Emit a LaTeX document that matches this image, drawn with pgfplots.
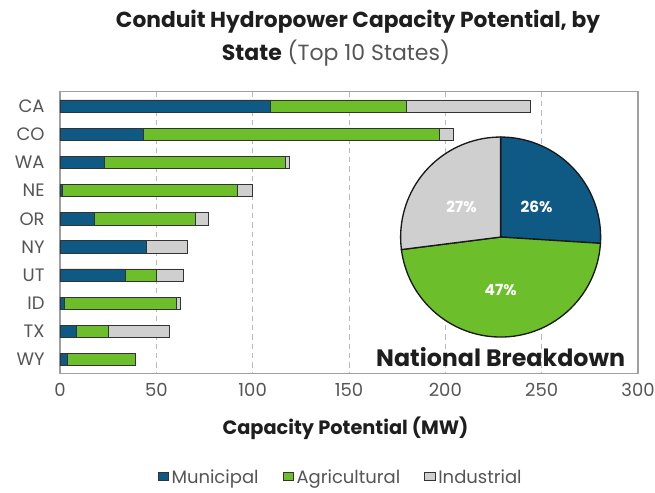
\documentclass[border=0pt]{standalone}
\usepackage{pgfplots}
\pgfplotsset{compat=1.18}
\usepackage{pgfplotstable}
\usepackage{fontspec}
\setmainfont{Poppins}
\definecolor{muni}{HTML}{0F5A85}
\definecolor{agri}{HTML}{6CBF2B}
\definecolor{ind}{HTML}{CFCFCF}
\definecolor{tickc}{HTML}{555555}
\definecolor{titlec}{HTML}{1E1E1E}
\pgfplotstableread{
idx muni agri ind
0 109 71 64
1 43 154 7
2 23 94 2
3 1 91 8
4 18 52 7
5 45 0 21
6 34 16 14
7 2 58.5 2
8 8.5 16.5 32
9 4 35 0
}\data
\tikzset{sqleg/.style={legend image code/.code={\draw[##1, line width=0.6pt] (0pt,-4pt) rectangle (8pt,4pt);}}}
\begin{document}
\begin{tikzpicture}
\useasboundingbox (-45pt,-89pt) rectangle (446.25pt,280pt);
\begin{axis}[
  at={(0,0)}, anchor=south west,
  scale only axis, width=433.5pt, height=211.2pt,
  xbar stacked, bar width=9.2pt,
  xmin=0, xmax=300, ymin=-0.51, ymax=9.49, y dir=reverse,
  xtick={0,50,...,300}, ytick={0,...,9},
  yticklabels={CA,CO,WA,NE,OR,NY,UT,ID,TX,WY},
  major tick length=0pt,
  xmajorgrids, grid style={dash pattern=on 4pt off 3pt, gray!55, line width=0.6pt},
  axis line style={draw=gray!75, line width=0.9pt},
  ticklabel style={font=\fontsize{13.5}{15}\selectfont, text=tickc},
  yticklabel style={xshift=-8pt}, xticklabel style={yshift=-4pt},
  /pgf/number format/assume math mode=true,
  xlabel={\textbf{Capacity Potential (MW)}},
  xlabel style={at={(axis description cs:0.494,-0.194)}, anchor=center, font=\fontsize{14.5}{16}\selectfont, text=titlec},
  legend style={at={(axis description cs:0.486,-0.372)}, anchor=center, draw=none, legend columns=3,
    font=\fontsize{13.5}{15}\selectfont, text=tickc,
    /tikz/every even column/.append style={column sep=16pt}},
  clip=false,
]
\addplot[fill=muni, draw=black!80, line width=0.5pt, sqleg] table[x=muni,y=idx]{\data};
\addlegendentry{Municipal}
\addplot[fill=agri, draw=black!80, line width=0.5pt, sqleg] table[x=agri,y=idx]{\data};
\addlegendentry{Agricultural}
\addplot[fill=ind, draw=black!80, line width=0.5pt, sqleg] table[x=ind,y=idx]{\data};
\addlegendentry{Industrial}
\coordinate (pc) at (axis cs:228.7,4.65);
\end{axis}
% pie: 26% municipal, 47% agricultural, 27% industrial
\filldraw[fill=muni, draw=black!90, line width=1pt] (pc) -- ++(90:75pt) arc[start angle=90, end angle=-3.6, radius=75pt] -- cycle;
\filldraw[fill=agri, draw=black!90, line width=1pt] (pc) -- ++(-3.6:75pt) arc[start angle=-3.6, end angle=-172.8, radius=75pt] -- cycle;
\filldraw[fill=ind, draw=black!90, line width=1pt] (pc) -- ++(-172.8:75pt) arc[start angle=-172.8, end angle=-270, radius=75pt] -- cycle;
\node[text=white, font=\fontsize{11.5}{13}\selectfont\bfseries] at ([shift={(27pt,22.7pt)}]pc) {26\%};
\node[text=white, font=\fontsize{11.5}{13}\selectfont\bfseries] at ([shift={(-29.3pt,22.7pt)}]pc) {27\%};
\node[text=white, font=\fontsize{11.5}{13}\selectfont\bfseries] at ([shift={(0pt,-39.8pt)}]pc) {47\%};
\node[text=titlec, font=\fontsize{17.8}{19}\selectfont\bfseries] at ([shift={(0pt,-89.8pt)}]pc) {National Breakdown};
\node[text=titlec, font=\fontsize{16.3}{19}\selectfont\bfseries] at (223.5pt,263.5pt) {Conduit Hydropower Capacity Potential, by};
\node[text=titlec, font=\fontsize{16.5}{19}\selectfont] at (207pt,240pt) {\textbf{State} {\color{tickc}(Top 10 States)}};
\end{tikzpicture}
\end{document}
